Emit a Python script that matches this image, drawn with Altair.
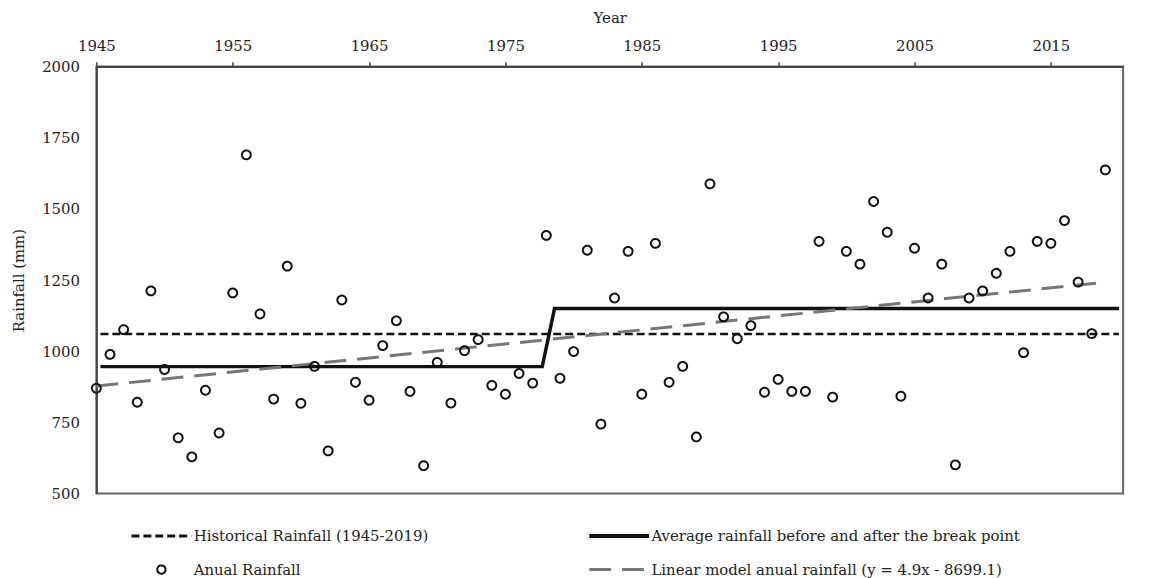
import altair as alt
import pandas as pd

# ---------------- data ----------------
years = list(range(1945, 2020))
rainfall = [870, 989, 1076, 821, 1212, 936, 696, 629, 863, 713,
            1205, 1690, 1131, 832, 1299, 817, 947, 650, 1180, 891,
            828, 1020, 1107, 859, 598, 961, 818, 1002, 1041, 880,
            849, 922, 888, 1407, 905, 999, 1355, 744, 1187, 1351,
            849, 1379, 891, 947, 699, 1588, 1121, 1044, 1090, 856,
            901, 859, 859, 1386, 839, 1351, 1306, 1526, 1418, 842,
            1362, 1187, 1306, 601, 1187, 1212, 1274, 1351, 995, 1386,
            1379, 1459, 1243, 1062, 1637]

hist_x = [1945.3, 2020.0]
hist_y = [1061, 1061]
avg_x = [1945.3, 1977.7, 1978.6, 2020.0]
avg_y = [946, 946, 1150, 1150]
lin_x = [1945.0, 2019.1]
lin_y = [878, 1243]

# legend order (filled column by column: left column first)
series_names = [
    "Historical Rainfall (1945-2019)",
    "Anual Rainfall",
    "Average rainfall before and after the break point",
    "Linear model anual rainfall (y = 4.9x - 8699.1)",
]
x_ticks = [1945, 1955, 1965, 1975, 1985, 1995, 2005, 2015]
y_ticks = [500, 750, 1000, 1250, 1500, 1750, 2000]

FONT = "DejaVu Serif"
LINE_PATH = "M-7.2,0L7.2,0"

x_scale = alt.Scale(domain=[1945, 2020.3], nice=False, zero=False)
y_scale = alt.Scale(domain=[500, 2000], nice=False, zero=False)

x_axis = alt.Axis(orient="top", values=x_ticks, format="d", title="Year",
                  grid=False, ticks=True, tickSize=5, tickWidth=1.5, tickColor="#444",
                  labelPadding=8, titlePadding=13, labelFlush=False)
y_axis = alt.Axis(orient="left", values=y_ticks, format="d", title="Rainfall (mm)",
                  grid=False, ticks=False, labelPadding=17, titlePadding=15,
                  labelFlush=False)

X = alt.X("Year:Q", scale=x_scale, axis=x_axis)
Y = alt.Y("Rainfall:Q", scale=y_scale, axis=y_axis)

legend = alt.Legend(
    title=None, orient="none", legendX=58, legendY=465, columns=2,
    columnPadding=153, rowPadding=17, padding=0,
    labelFont=FONT, labelFontSize=15, labelColor="#222", labelLimit=0,
    labelOffset=25, symbolSize=70, symbolOpacity=1,
)

pts = pd.DataFrame({"Year": years, "Rainfall": rainfall, "series": series_names[1]})

points = alt.Chart(pts).mark_point(filled=False, opacity=1, size=80).encode(
    x=X, y=Y,
    color=alt.Color("series:N", scale=alt.Scale(domain=series_names,
                    range=["#111111", "#111111", "#111111", "#777777"]), legend=legend),
    shape=alt.Shape("series:N", scale=alt.Scale(domain=series_names,
                    range=[LINE_PATH, "circle", LINE_PATH, LINE_PATH]), legend=legend),
    strokeDash=alt.StrokeDash("series:N", scale=alt.Scale(domain=series_names,
                    range=[[8, 4], [1, 0], [1, 0], [22, 11]]), legend=legend),
    strokeWidth=alt.StrokeWidth("series:N", scale=alt.Scale(type="ordinal", domain=series_names,
                    range=[3, 2, 4, 3]), legend=legend),
)

hist_df = pd.DataFrame({"Year": hist_x, "Rainfall": hist_y})
avg_df = pd.DataFrame({"Year": avg_x, "Rainfall": avg_y})
lin_df = pd.DataFrame({"Year": lin_x, "Rainfall": lin_y})

hist_line = alt.Chart(hist_df).mark_line(color="#111111", strokeWidth=2.5,
                                          strokeDash=[8, 4]).encode(x=X, y=Y)
avg_line = alt.Chart(avg_df).mark_line(color="#111111", strokeWidth=3.5).encode(x=X, y=Y)
lin_line = alt.Chart(lin_df).mark_line(color="#777777", strokeWidth=3,
                                        strokeDash=[22, 11]).encode(x=X, y=Y)

chart = alt.layer(hist_line, avg_line, lin_line, points).properties(
    width=1034, height=430,
    autosize=alt.AutoSizeParams(type="none"),
    padding={"left": 89, "top": 57, "right": 18, "bottom": 83},
    background="white",
).configure_view(
    stroke="#666666", strokeWidth=2
).configure_axis(
    domainColor="#444444", domainWidth=2,
    labelFont=FONT, labelFontSize=15, labelColor="#222222",
    titleFont=FONT, titleFontSize=15, titleColor="#222222", titleFontWeight="normal",
)

chart.save("out.html", embed_options={"renderer": "svg", "actions": False})
